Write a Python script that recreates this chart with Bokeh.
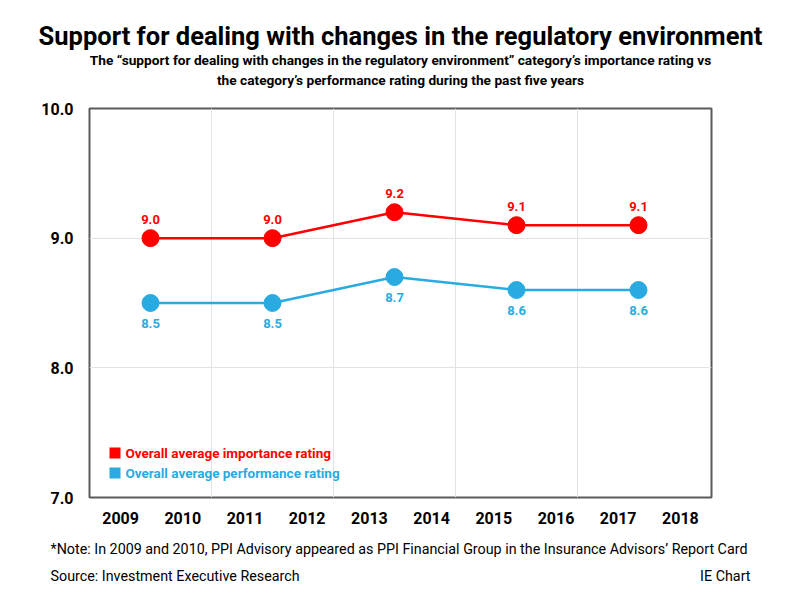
from bokeh.plotting import figure
from bokeh.layouts import column
from bokeh.models import Range1d, FixedTicker, Label, BoxAnnotation, ColumnDataSource, LabelSet
from bokeh.core.properties import value
from bokeh.embed import file_html
from bokeh.resources import INLINE

# ---- data ----
survey_years = ["2009", "2011", "2013", "2015", "2017"]
importance = [9.0, 9.0, 9.2, 9.1, 9.1]
performance = [8.5, 8.5, 8.7, 8.6, 8.6]
axis_years = ["2009", "2010", "2011", "2012", "2013", "2014", "2015", "2016", "2017", "2018"]
y_ticks = [7.0, 8.0, 9.0, 10.0]

RED = "#ff0000"
BLUE = "#29abe2"
FONT = "Roboto"

W = 800
HEAD_H = 98
FOOT_TOP = 532
# geometry of the plotting frame (page px)
FL, FR, FT, FB = 89, 711, 108, 497
n_pts = len(survey_years)
band = 122.0
xmax = (FR - FL) / band
ymin, ymax = 7.0, 10.0
def dx(px):
    return (px - FL) / band
def dy(py):
    return ymin + (FB - py) / (FB - FT) * (ymax - ymin)

def no_align(f):
    try:
        f.frame_align = False
    except Exception:
        pass

def blank(h, y0):
    f = figure(width=W, height=h, output_backend="svg", toolbar_location=None,
               x_range=Range1d(0, W), y_range=Range1d(y0 + h, y0),
               min_border=0, min_border_left=0, min_border_right=0,
               min_border_top=0, min_border_bottom=0, outline_line_color=None)
    f.axis.visible = False
    f.grid.visible = False
    f.background_fill_color = "white"
    f.border_fill_color = "white"
    no_align(f)
    return f

def txt(f, px, py, s, size, align="center", style="bold", color="black"):
    f.add_layout(Label(x=px, y=py, text=s, text_color=color,
                       text_align=align, text_baseline="middle",
                       text_font=FONT, text_font_style=style, text_font_size=size))

# ---- header ----
head = blank(HEAD_H, 0)
txt(head, 400, 35, "Support for dealing with changes in the regulatory environment", "25.5px")
txt(head, 400, 59, "The \u201csupport for dealing with changes in the regulatory environment\u201d category\u2019s importance rating vs", "13.7px")
txt(head, 400, 79, "the category\u2019s performance rating during the past five years", "13.7px")

# ---- main plot ----
p = figure(width=W, height=FOOT_TOP - HEAD_H, output_backend="svg", toolbar_location=None,
           x_range=Range1d(0, xmax), y_range=Range1d(ymin, ymax),
           min_border_left=FL, min_border_right=W - FR,
           min_border_top=FT - HEAD_H, min_border_bottom=FOOT_TOP - FB)
no_align(p)
p.background_fill_color = "white"
p.border_fill_color = "white"
p.outline_line_color = "#5a5a5a"
p.outline_line_width = 2

yr_ticks = [(k + 0.5) * (FR - FL) / len(axis_years) / band for k in range(len(axis_years))]
p.xaxis.ticker = FixedTicker(ticks=yr_ticks)
p.xaxis.major_label_overrides = {t: lab for t, lab in zip(yr_ticks, axis_years)}
p.yaxis.ticker = FixedTicker(ticks=y_ticks)
p.yaxis.major_label_overrides = {t: f"{t:.1f}" for t in y_ticks}
for ax in (p.xaxis[0], p.yaxis[0]):
    ax.axis_line_color = None
    ax.major_tick_line_color = None
    ax.minor_tick_line_color = None
    ax.major_label_text_font = FONT
    ax.major_label_text_font_style = "bold"
    ax.major_label_text_color = "black"
p.xaxis.major_label_text_font_size = "16px"
p.yaxis.major_label_text_font_size = "16px"
p.xaxis.major_label_standoff = 8
p.yaxis.major_label_standoff = 10

p.xgrid.ticker = FixedTicker(ticks=[i for i in range(1, n_pts)])
p.xgrid.grid_line_color = "#e3e3e3"
p.ygrid.ticker = FixedTicker(ticks=[8.0, 9.0])
p.ygrid.grid_line_color = "#e3e3e3"

xs = [i + 0.5 for i in range(n_pts)]
src = ColumnDataSource(dict(x=xs, imp=importance, perf=performance,
                            imp_t=[f"{v:.1f}" for v in importance],
                            perf_t=[f"{v:.1f}" for v in performance]))

p.line("x", "imp", source=src, line_color=RED, line_width=2.5)
p.scatter("x", "imp", source=src, size=17, fill_color=RED, line_color=RED)
p.line("x", "perf", source=src, line_color=BLUE, line_width=2.5)
p.scatter("x", "perf", source=src, size=17, fill_color=BLUE, line_color=BLUE)

p.add_layout(LabelSet(x="x", y="imp", text="imp_t", source=src, text_align="center",
                      text_baseline="bottom", y_offset=14, text_color=RED,
                      text_font=value(FONT), text_font_style="bold", text_font_size="13px"))
p.add_layout(LabelSet(x="x", y="perf", text="perf_t", source=src, text_align="center",
                      text_baseline="top", y_offset=-16, text_color=BLUE,
                      text_font=value(FONT), text_font_style="bold", text_font_size="13px"))

for (top, col, s) in [(447, RED, "Overall average importance rating"),
                      (467, BLUE, "Overall average performance rating")]:
    p.add_layout(BoxAnnotation(left=dx(109), right=dx(120), top=dy(top), bottom=dy(top + 11),
                               fill_color=col, fill_alpha=1, line_color=None))
    p.add_layout(Label(x=dx(125), y=dy(top + 5.5), text=s, text_color=col,
                       text_align="left", text_baseline="middle",
                       text_font=FONT, text_font_style="bold", text_font_size="13.5px"))

# ---- footer ----
foot = blank(600 - FOOT_TOP, FOOT_TOP)
txt(foot, 50, 548, "*Note: In 2009 and 2010, PPI Advisory appeared as PPI Financial Group in the Insurance Advisors\u2019 Report Card", "14.3px", "left", "normal")
txt(foot, 50, 575, "Source: Investment Executive Research", "14.3px", "left", "normal")
txt(foot, 750, 575, "IE Chart", "14.3px", "right", "normal")

layout = column(head, p, foot, spacing=0)
open("out.html", "w").write(file_html(layout, INLINE))
